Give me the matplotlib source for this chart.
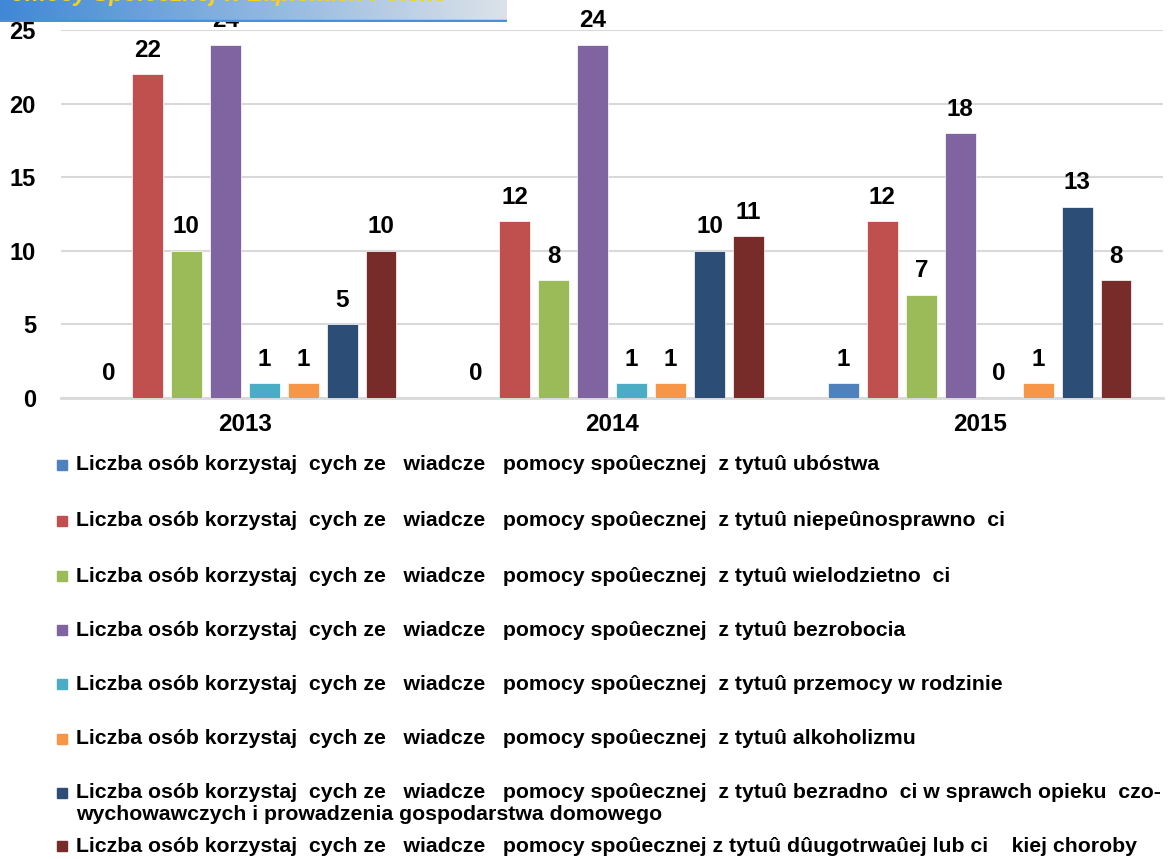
import numpy as np
import matplotlib
matplotlib.use("Agg")
import matplotlib.pyplot as plt
from matplotlib.patches import Rectangle
from matplotlib.colors import LinearSegmentedColormap

plt.rcParams['font.family'] = ['Liberation Sans', 'DejaVu Sans']
plt.rcParams['font.weight'] = 'bold'

# data
years = ["2013", "2014", "2015"]
prefix = "Liczba osób korzystaj  cych ze   wiadcze   pomocy spoûecznej  z tytuû "
series_labels = [
    prefix + "ubóstwa",
    prefix + "niepeûnosprawno  ci",
    prefix + "wielodzietno  ci",
    prefix + "bezrobocia",
    prefix + "przemocy w rodzinie",
    prefix + "alkoholizmu",
    prefix + "bezradno  ci w sprawch opieku  czo-\nwychowawczych i prowadzenia gospodarstwa domowego",
    "Liczba osób korzystaj  cych ze   wiadcze   pomocy spoûecznej z tytuû dûugotrwaûej lub ci    kiej choroby",
]
values_ubostwo = [0, 0, 1]
values_niepelnosprawnosc = [22, 12, 12]
values_wielodzietnosc = [10, 8, 7]
values_bezrobocie = [24, 24, 18]
values_przemoc = [1, 1, 0]
values_alkoholizm = [1, 1, 1]
values_bezradnosc = [5, 10, 13]
values_choroba = [10, 11, 8]
all_values = [values_ubostwo, values_niepelnosprawnosc, values_wielodzietnosc,
              values_bezrobocie, values_przemoc, values_alkoholizm,
              values_bezradnosc, values_choroba]
colors = ["#4F81BD", "#C0504D", "#9BBB59", "#8064A2",
          "#4BACC6", "#F79646", "#2C4D75", "#772C2A"]

fig = plt.figure(figsize=(11.72, 8.59), dpi=100)
ax = fig.add_axes([0.052, 1 - 398 / 859, 0.9407, 368 / 859])

x = np.arange(len(years))
step = 0.106
width = 0.084
n = len(all_values)
for i, vals in enumerate(all_values):
    pos = x + (i - (n - 1) / 2) * step
    ax.bar(pos, vals, width, color=colors[i], edgecolor="white", linewidth=0.5, zorder=3)
    for p, v in zip(pos, vals):
        ax.annotate(str(v), (p, v), xytext=(0, 9), textcoords="offset points",
                    ha="center", va="bottom", fontsize=17.5, fontweight="bold")

ax.set_xlim(-0.5, 2.5)
ax.set_ylim(0, 25)
ax.set_yticks([0, 5, 10, 15, 20, 25])
ax.set_xticks(x)
ax.set_xticklabels(years, fontsize=17.5, fontweight="bold")
ax.tick_params(axis="y", length=0, pad=18, labelsize=17)
ax.tick_params(axis="x", length=0, pad=11)
ax.grid(axis="y", color="#D9D9D9", linewidth=1.5, zorder=0)
for s in ["top", "right", "left"]:
    ax.spines[s].set_visible(False)
ax.spines["bottom"].set_color("#D9D9D9")
ax.spines["bottom"].set_linewidth(2)

# legend, drawn by hand
legend_rows = [465, 521, 576, 630, 684, 739, 793, 846]
for i, (lab, ypix) in enumerate(zip(series_labels, legend_rows)):
    yf = 1 - ypix / 859
    fig.patches.append(Rectangle((57 / 1172, yf - 5 / 859), 10 / 1172, 10 / 859,
                                 transform=fig.transFigure, color=colors[i]))
    for k, line in enumerate(lab.split("\n")):
        fig.text(76 / 1172, yf - k * 22 / 859, line, fontsize=15.3, fontweight="bold",
                 va="center", ha="left")

# header banner (cut off at the top)
bax = fig.add_axes([0, 1 - 22 / 859, 507 / 1172, 22 / 859])
grad = np.linspace(0, 1, 256).reshape(1, -1)
cmap = LinearSegmentedColormap.from_list("banner", ["#3F88D6", "#8DB5DF", "#DCE2E9"])
bax.imshow(grad, aspect="auto", cmap=cmap, extent=[0, 1, 0, 1])
bax.text(-0.01, 0.74, "Pomocy Społecznej w Zapiskach Polsko", color="#F5D31C",
         fontsize=17, fontweight="bold", style="italic", va="bottom", ha="left", clip_on=True)
bax.axhline(0.04, color="#4A8FD8", linewidth=2.5)
bax.set_xlim(0, 1)
bax.set_ylim(0, 1)
bax.axis("off")

fig.savefig("out.png", dpi=100)
